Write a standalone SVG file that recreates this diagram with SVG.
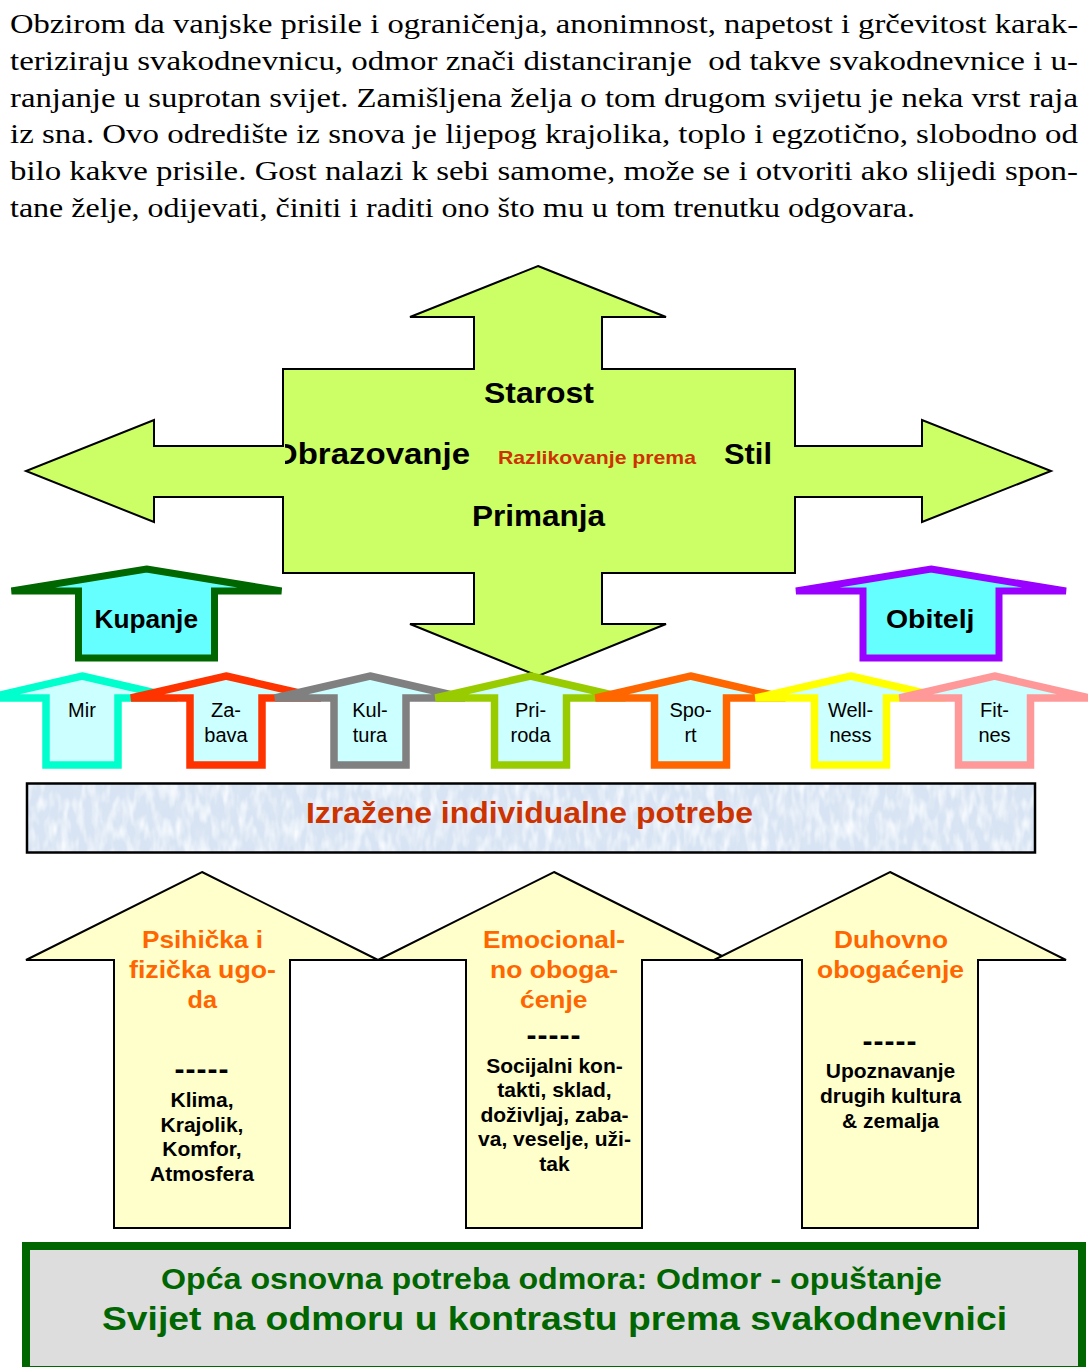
<svg xmlns="http://www.w3.org/2000/svg" width="1088" height="1367" viewBox="0 0 1088 1367">
  <style>
    .sans { font-family: "Liberation Sans", Arial, sans-serif; }
    .serif { font-family: "Liberation Serif", "Times New Roman", serif; }
    .para { font-size: 28px; fill: #000; }
    .cross { fill: #ccff66; stroke: #000; stroke-width: 2; stroke-linejoin: miter; }
    .lbl { font-size: 30px; font-weight: bold; fill: #000; }
    .red { font-size: 18.5px; font-weight: bold; fill: #cc3300; }
    .cap { fill: #66ffff; stroke-width: 7; stroke-linejoin: miter; }
    .capTxt { font-size: 25px; font-weight: bold; fill: #000; }
    .small { fill: #ccffff; stroke-width: 7.5; stroke-linejoin: miter; }
    .stxt { font-size: 20px; fill: #000; text-anchor: middle; }
    .band { fill: #d8e4f3; }
    .bandEdge { fill: none; stroke: #000; stroke-width: 2.5; }
    .bandTxt { font-size: 30px; font-weight: bold; fill: #cc3300; }
    .need { fill: #ffffcc; stroke: #000; stroke-width: 2; stroke-linejoin: miter; }
    .head { font-size: 24px; font-weight: bold; fill: #ff6600; }
    .body { font-size: 21px; font-weight: bold; fill: #000; text-anchor: middle; }
    .dash { font-size: 30px; font-weight: bold; fill: #000; text-anchor: middle; letter-spacing: 1px; }
    .base { fill: #dddddd; stroke: #006600; stroke-width: 8; }
    .baseTxt { font-weight: bold; fill: #006600; }
  </style>
  <defs>
    <!-- flat-headed cap arrow used for Kupanje / Obitelj -->
    <path id="capArrow" d="M0,569 L135,591 L68,591 L68,658 L-68,658 L-68,591 L-135,591 Z"/>
    <!-- small need arrow of the middle row -->
    <path id="smallArrow" d="M0,676 L95,698 L36,698 L36,765 L-36,765 L-36,698 L-95,698 Z"/>
    <clipPath id="clipObr">
      <rect x="285" y="425" width="200" height="55"/>
    </clipPath>
    <!-- light mottled texture for the needs band -->
    <filter id="mottleLight" x="0" y="0" width="1" height="1">
      <feTurbulence type="fractalNoise" baseFrequency="0.13 0.05" numOctaves="2" seed="7" result="n"/>
      <feColorMatrix in="n" type="matrix" values="0 0 0 0 0.96  0 0 0 0 0.98  0 0 0 0 1  2.2 0 0 0 -0.9" result="c"/>
      <feComposite in="c" in2="SourceGraphic" operator="in"/>
    </filter>
    <filter id="mottleDark" x="0" y="0" width="1" height="1">
      <feTurbulence type="fractalNoise" baseFrequency="0.1 0.04" numOctaves="2" seed="21" result="n"/>
      <feColorMatrix in="n" type="matrix" values="0 0 0 0 0.76  0 0 0 0 0.82  0 0 0 0 0.92  2 0 0 0 -0.95" result="c"/>
      <feComposite in="c" in2="SourceGraphic" operator="in"/>
    </filter>
  </defs>

  <!-- introductory paragraph -->
  <g id="paragraph" class="serif para">
    <text x="10" y="33" textLength="1068" lengthAdjust="spacingAndGlyphs">Obzirom da vanjske prisile i ograničenja, anonimnost, napetost i grčevitost karak-</text>
    <text x="10" y="70" textLength="1068" lengthAdjust="spacingAndGlyphs" xml:space="preserve">teriziraju svakodnevnicu, odmor znači distanciranje  od takve svakodnevnice i u-</text>
    <text x="10" y="106.5" textLength="1068" lengthAdjust="spacingAndGlyphs">ranjanje u suprotan svijet. Zamišljena želja o tom drugom svijetu je neka vrst raja</text>
    <text x="10" y="143" textLength="1068" lengthAdjust="spacingAndGlyphs">iz sna. Ovo odredište iz snova je lijepog krajolika, toplo i egzotično, slobodno od</text>
    <text x="10" y="180" textLength="1068" lengthAdjust="spacingAndGlyphs">bilo kakve prisile. Gost nalazi k sebi samome, može se i otvoriti ako slijedi spon-</text>
    <text x="10" y="216.5" textLength="905" lengthAdjust="spacingAndGlyphs">tane želje, odijevati, činiti i raditi ono što mu u tom trenutku odgovara.</text>
  </g>

  <!-- four-way arrow: Razlikovanje prema -->
  <g id="razlikovanje">
    <path class="cross" d="M538,266 L666,317 L602,317 L602,369 L795,369 L795,446 L922,446 L922,420 L1051,471 L922,522 L922,497 L795,497 L795,573 L602,573 L602,624 L666,624 L538,676 L410,624 L474,624 L474,573 L283,573 L283,497 L154,497 L154,522 L26,471 L154,420 L154,446 L283,446 L283,369 L474,369 L474,317 L410,317 Z"/>
    <text class="sans lbl" x="484" y="403" textLength="110" lengthAdjust="spacingAndGlyphs">Starost</text>
    <g clip-path="url(#clipObr)">
      <text class="sans lbl" x="272" y="464" textLength="198" lengthAdjust="spacingAndGlyphs">Obrazovanje</text>
    </g>
    <text class="sans red" x="498" y="464" textLength="198" lengthAdjust="spacingAndGlyphs">Razlikovanje prema</text>
    <text class="sans lbl" x="724" y="464" textLength="48" lengthAdjust="spacingAndGlyphs">Stil</text>
    <text class="sans lbl" x="472" y="526" textLength="133" lengthAdjust="spacingAndGlyphs">Primanja</text>
  </g>

  <!-- upper cap arrows -->
  <g id="kupanje">
    <use href="#capArrow" x="146.5" class="cap" stroke="#006600"/>
    <text class="sans capTxt" x="94.5" y="628" textLength="103.5" lengthAdjust="spacingAndGlyphs">Kupanje</text>
  </g>
  <g id="obitelj">
    <use href="#capArrow" x="931" class="cap" stroke="#9900ff"/>
    <text class="sans capTxt" x="886" y="628" textLength="88.5" lengthAdjust="spacingAndGlyphs">Obitelj</text>
  </g>

  <!-- row of small need arrows, drawn left to right so each overlaps the previous -->
  <g id="mir">
    <use href="#smallArrow" x="82" class="small" stroke="#00ffcc"/>
    <text class="sans stxt" x="82" y="717">Mir</text>
  </g>
  <g id="zabava">
    <use href="#smallArrow" x="226" class="small" stroke="#ff3300"/>
    <text class="sans stxt" x="226" y="717">Za-</text>
    <text class="sans stxt" x="226" y="742">bava</text>
  </g>
  <g id="kultura">
    <use href="#smallArrow" x="370" class="small" stroke="#808080"/>
    <text class="sans stxt" x="370" y="717">Kul-</text>
    <text class="sans stxt" x="370" y="742">tura</text>
  </g>
  <g id="priroda">
    <use href="#smallArrow" x="530.5" class="small" stroke="#99cc00"/>
    <text class="sans stxt" x="530.5" y="717">Pri-</text>
    <text class="sans stxt" x="530.5" y="742">roda</text>
  </g>
  <g id="sport">
    <use href="#smallArrow" x="690.5" class="small" stroke="#ff6600"/>
    <text class="sans stxt" x="690.5" y="717">Spo-</text>
    <text class="sans stxt" x="690.5" y="742">rt</text>
  </g>
  <g id="wellness">
    <use href="#smallArrow" x="850.5" class="small" stroke="#ffff00"/>
    <text class="sans stxt" x="850.5" y="717">Well-</text>
    <text class="sans stxt" x="850.5" y="742">ness</text>
  </g>
  <g id="fitnes">
    <use href="#smallArrow" x="994.5" class="small" stroke="#ff9999"/>
    <text class="sans stxt" x="994.5" y="717">Fit-</text>
    <text class="sans stxt" x="994.5" y="742">nes</text>
  </g>

  <!-- band: individual needs -->
  <g id="izrazene-potrebe">
    <rect class="band" x="27" y="783.5" width="1008" height="69"/>
    <rect x="27" y="783.5" width="1008" height="69" fill="#fff" filter="url(#mottleLight)"/>
    <rect x="27" y="783.5" width="1008" height="69" fill="#fff" filter="url(#mottleDark)" opacity="0.7"/>
    <rect class="bandEdge" x="27" y="783.5" width="1008" height="69"/>
    <text class="sans bandTxt" x="306" y="823" textLength="447" lengthAdjust="spacingAndGlyphs">Izražene individualne potrebe</text>
  </g>

  <!-- three large base arrows -->
  <g id="psihicka-ugoda">
    <path class="need" d="M202,872 L378,960 L290,960 L290,1228 L114,1228 L114,960 L26,960 Z"/>
    <text class="sans head" x="142" y="948" textLength="121" lengthAdjust="spacingAndGlyphs">Psihička i</text>
    <text class="sans head" x="129" y="978" textLength="147" lengthAdjust="spacingAndGlyphs">fizička ugo-</text>
    <text class="sans head" x="187.5" y="1008" textLength="29.5" lengthAdjust="spacingAndGlyphs">da</text>
    <text class="sans dash" x="202" y="1079">-----</text>
    <text class="sans body" x="202" y="1107">Klima,</text>
    <text class="sans body" x="202" y="1131.5">Krajolik,</text>
    <text class="sans body" x="202" y="1156">Komfor,</text>
    <text class="sans body" x="202" y="1180.5">Atmosfera</text>
  </g>
  <g id="emocionalno-obogacenje">
    <path class="need" d="M554,872 L730,960 L642,960 L642,1228 L466,1228 L466,960 L378,960 Z"/>
    <text class="sans head" x="483" y="948" textLength="142" lengthAdjust="spacingAndGlyphs">Emocional-</text>
    <text class="sans head" x="490" y="978" textLength="128" lengthAdjust="spacingAndGlyphs">no oboga-</text>
    <text class="sans head" x="520" y="1008" textLength="67.5" lengthAdjust="spacingAndGlyphs">ćenje</text>
    <text class="sans dash" x="554" y="1045">-----</text>
    <text class="sans body" x="554.5" y="1073">Socijalni kon-</text>
    <text class="sans body" x="554.5" y="1097">takti, sklad,</text>
    <text class="sans body" x="554.5" y="1121.5">doživljaj, zaba-</text>
    <text class="sans body" x="554.5" y="1146">va, veselje, uži-</text>
    <text class="sans body" x="554.5" y="1170.5">tak</text>
  </g>
  <g id="duhovno-obogacenje">
    <path class="need" d="M890,872 L1066,960 L978,960 L978,1228 L802,1228 L802,960 L714,960 Z"/>
    <text class="sans head" x="834" y="948" textLength="114" lengthAdjust="spacingAndGlyphs">Duhovno</text>
    <text class="sans head" x="817" y="978" textLength="147" lengthAdjust="spacingAndGlyphs">obogaćenje</text>
    <text class="sans dash" x="890" y="1051">-----</text>
    <text class="sans body" x="890.5" y="1078">Upoznavanje</text>
    <text class="sans body" x="890.5" y="1103">drugih kultura</text>
    <text class="sans body" x="890.5" y="1128">&amp; zemalja</text>
  </g>

  <!-- base box: general need -->
  <g id="opca-potreba">
    <rect class="base" x="26" y="1246" width="1056" height="124"/>
    <text class="sans baseTxt" x="161" y="1289" font-size="29" textLength="781" lengthAdjust="spacingAndGlyphs">Opća osnovna potreba odmora: Odmor - opuštanje</text>
    <text class="sans baseTxt" x="102" y="1330" font-size="33" textLength="905" lengthAdjust="spacingAndGlyphs">Svijet na odmoru u kontrastu prema svakodnevnici</text>
  </g>

  <g id="connectors"/>
</svg>
